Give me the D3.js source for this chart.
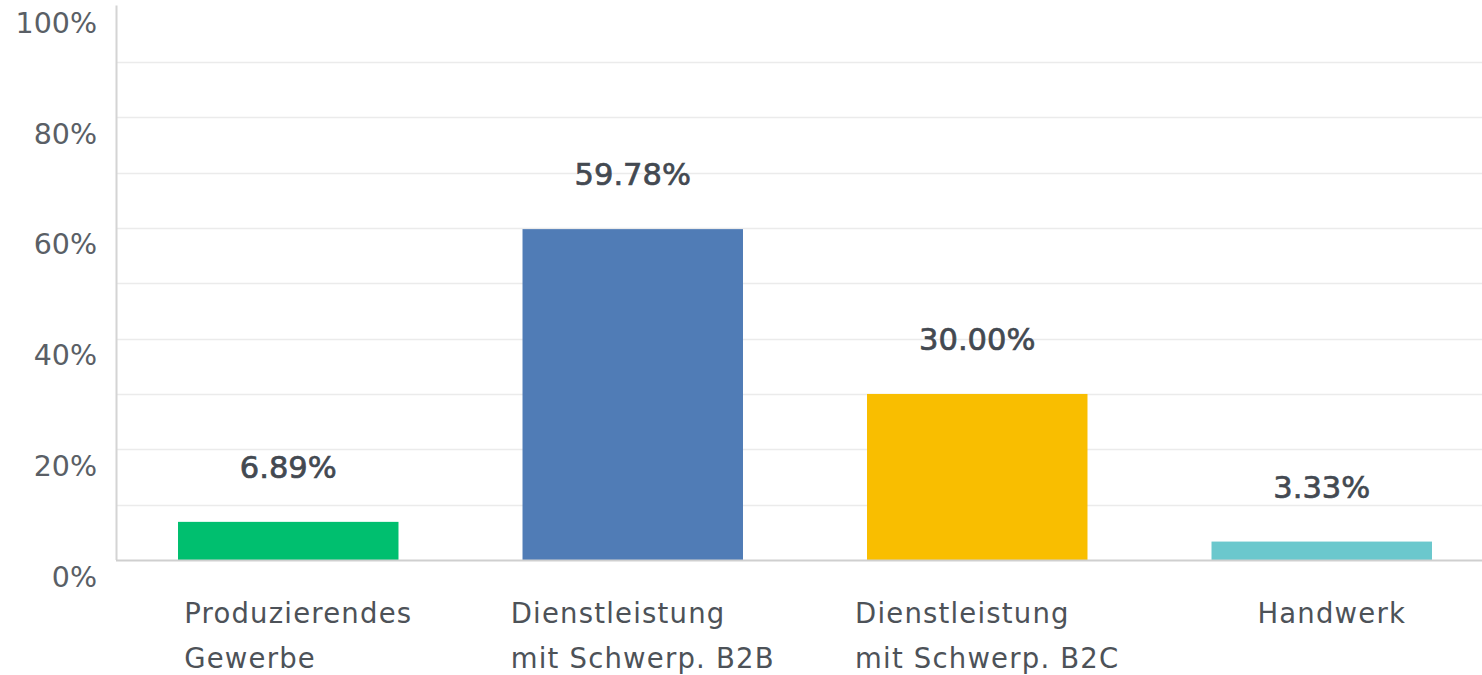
<!DOCTYPE html>
<html>
<head>
<meta charset="utf-8">
<script src="https://cdn.jsdelivr.net/npm/d3@7"></script>
<style>
  html, body { margin: 0; padding: 0; background: #fff; }
  svg { display: block; }
  text { font-family: "DejaVu Sans", sans-serif; }
</style>
</head>
<body>
<svg id="chart" width="1482" height="675"></svg>
<script>
const categories = [
  ["Produzierendes", "Gewerbe"],
  ["Dienstleistung", "mit Schwerp. B2B"],
  ["Dienstleistung", "mit Schwerp. B2C"],
  ["Handwerk"]
];
const values = [6.89, 59.78, 30.00, 3.33];
const colors = ["#00bf6f", "#507cb6", "#f9be00", "#6bc8cd"];
const yTicks = [0, 20, 40, 60, 80, 100];
const gridTicks = [10, 20, 30, 40, 50, 60, 70, 80, 90];

const svg = d3.select("#chart");
const mLeft = 116, mRight = 1482, mTop = 6.5, mBottom = 560;

const x = d3.scaleBand()
  .domain(d3.range(categories.length))
  .range([mLeft, 1494])
  .paddingInner(0.36)
  .paddingOuter(0.18);

const y = d3.scaleLinear().domain([0, 100]).range([mBottom, mTop]);

// gridlines
svg.append("g").selectAll("line").data(gridTicks).join("line")
  .attr("x1", mLeft).attr("x2", mRight)
  .attr("y1", d => Math.round(y(d)) + 0.5).attr("y2", d => Math.round(y(d)) + 0.5)
  .attr("stroke", "#ebebeb").attr("stroke-width", 1.5);

// y axis tick labels
const yAxis = d3.axisLeft(y).tickValues(yTicks).tickFormat(d => d + "%").tickSize(0).tickPadding(19);
const gy = svg.append("g").attr("transform", `translate(${mLeft},0)`).call(yAxis);
gy.select(".domain").remove();
gy.selectAll("text")
  .attr("dy", "26px")
  .attr("font-size", 28.5)
  .attr("fill", "#5a5f66")
  .style("font-family", "'DejaVu Sans', sans-serif");

// vertical axis line
svg.append("line")
  .attr("x1", mLeft + 0.5).attr("x2", mLeft + 0.5)
  .attr("y1", mTop - 1).attr("y2", mBottom)
  .attr("stroke", "#d4d4d4").attr("stroke-width", 2);

// bars
svg.append("g").selectAll("rect").data(values).join("rect")
  .attr("x", (d, i) => x(i))
  .attr("width", x.bandwidth())
  .attr("y", d => y(d))
  .attr("height", d => y(0) - y(d))
  .attr("fill", (d, i) => colors[i]);

// baseline
svg.append("line")
  .attr("x1", mLeft).attr("x2", mRight)
  .attr("y1", mBottom + 0.5).attr("y2", mBottom + 0.5)
  .attr("stroke", "#cfcfcf").attr("stroke-width", 2);

// value labels
svg.append("g").selectAll("text").data(values).join("text")
  .attr("x", (d, i) => x(i) + x.bandwidth() / 2)
  .attr("y", d => y(d) - 44)
  .attr("text-anchor", "middle")
  .attr("font-size", 30.5)
  .attr("fill", "#434951")
  .attr("stroke", "#434951")
  .attr("stroke-width", 0.7)
  .text(d => d.toFixed(2) + "%");

// category labels
const cg = svg.append("g");
categories.forEach((lines, i) => {
  const t = cg.append("text")
    .attr("font-size", 27.5)
    .attr("letter-spacing", "1.2px")
    .attr("fill", "#4d5258");
  lines.forEach((ln, j) => {
    t.append("tspan").attr("x", 0).attr("y", 623 + j * 44.5).text(ln);
  });
  let maxw = 0;
  t.selectAll("tspan").each(function() { maxw = Math.max(maxw, this.getComputedTextLength()); });
  const start = x(i) + x.bandwidth() / 2 - maxw / 2 + 10;
  t.selectAll("tspan").attr("x", start);
});
</script>
</body>
</html>
